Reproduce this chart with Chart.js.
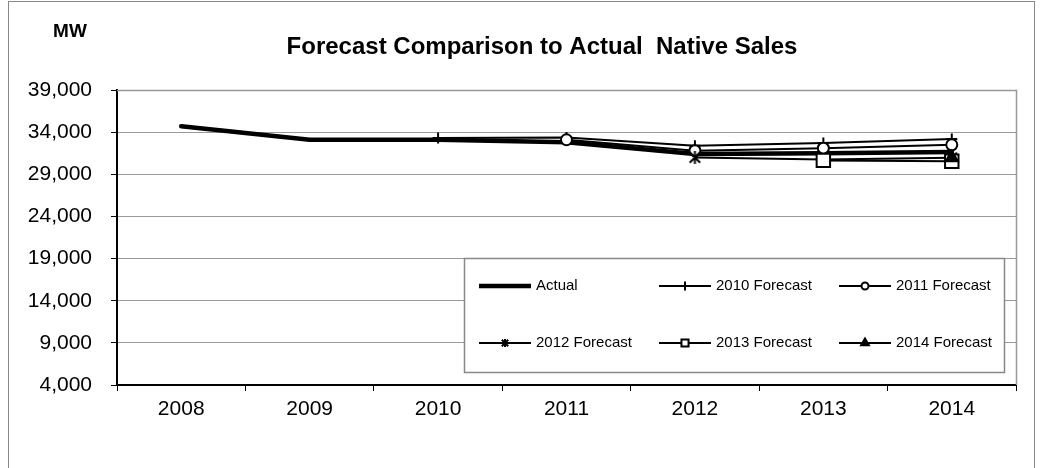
<!DOCTYPE html>
<html>
<head>
<meta charset="utf-8">
<script src="https://cdn.jsdelivr.net/npm/chart.js@4.4.1/dist/chart.umd.min.js"></script>
<style>
  html, body { margin: 0; padding: 0; background: #fff; overflow: hidden; }
  #wrap { position: relative; width: 1041px; height: 468px; }
</style>
</head>
<body>
<div id="wrap"><canvas id="c" width="1041" height="468"></canvas></div>
<script>
// ---- Data ----
const years = ['2008', '2009', '2010', '2011', '2012', '2013', '2014'];
const actual     = [34700, 33100, 33100, 32800, 31400, 31500, 31650];
const fc2010     = [null, null, 33300, 33350, 32400, 32700, 33200];
const fc2011     = [null, null, null, 33100, 31800, 32100, 32500];
const fc2012     = [null, null, null, null, 31000, 30750, 30950];
const fc2013     = [null, null, null, null, null, 30650, 30550];
const fc2014     = [null, null, null, null, null, null, 30950];
const yTicks     = [4000, 9000, 14000, 19000, 24000, 29000, 34000, 39000];
const titleText  = 'Forecast Comparison to Actual  Native Sales';
const unitText   = 'MW';

const FONT = "'Liberation Sans', Arial, sans-serif";

function makeAsterisk(size, lw) {
  const c = document.createElement('canvas');
  c.width = size; c.height = size;
  const g = c.getContext('2d');
  const m = size / 2, r = size / 2 - 1;
  g.strokeStyle = '#000'; g.lineWidth = lw; g.lineCap = 'butt';
  g.beginPath();
  g.moveTo(m, m - r); g.lineTo(m, m + r);
  const d = r * 0.8;
  g.moveTo(m - d, m - d); g.lineTo(m + d, m + d);
  g.moveTo(m + d, m - d); g.lineTo(m - d, m + d);
  g.stroke();
  return c;
}
const asteriskBig = makeAsterisk(15, 2);
const asteriskSmall = makeAsterisk(10, 2);

function fcSet(label, data, style, r, fill, order, legendR, legendStyle) {
  return {
    label, data,
    borderColor: '#000', borderWidth: 2, tension: 0,
    pointStyle: style, pointRadius: r, pointHoverRadius: r,
    pointBorderColor: '#000', pointBorderWidth: 2,
    pointBackgroundColor: fill, order,
    legendRadius: legendR, legendStyle: legendStyle || style
  };
}

const datasets = [
  { label: 'Actual', data: actual, borderColor: '#000', borderWidth: 4.5, tension: 0,
    pointRadius: 0, pointHoverRadius: 0, order: 10, borderCapStyle: 'round', borderJoinStyle: 'round', legendRadius: 0 },
  fcSet('2010 Forecast', fc2010, 'cross', 5.5, '#fff', 5, 4.5),
  fcSet('2011 Forecast', fc2011, 'circle', 5.5, '#fff', 4, 3.5),
  fcSet('2012 Forecast', fc2012, asteriskBig, 7, '#fff', 3, 5, asteriskSmall),
  fcSet('2013 Forecast', fc2013, 'rect', 9.5, '#fff', 2, 5),
  fcSet('2014 Forecast', fc2014, 'triangle', 7, '#000', 1, 4.5)
];

const decor = {
  id: 'decor',
  beforeDraw(chart) {
    const ctx = chart.ctx;
    ctx.save();
    ctx.fillStyle = '#fff';
    ctx.fillRect(0, 0, chart.width, chart.height);
    ctx.strokeStyle = '#888';
    ctx.lineWidth = 1;
    ctx.strokeRect(8.5, 1.5, 1026, 490);
    ctx.restore();
  },
  beforeDatasetsDraw(chart) {
    const { ctx, chartArea: a } = chart;
    ctx.save();
    ctx.strokeStyle = '#999';
    ctx.lineWidth = 1.5;
    ctx.beginPath();
    ctx.moveTo(a.left, a.top + 0.5);
    ctx.lineTo(a.right + 0.5, a.top + 0.5);
    ctx.lineTo(a.right + 0.5, a.bottom);
    ctx.stroke();
    ctx.restore();
  },
  afterDraw(chart) {
    const ctx = chart.ctx;
    ctx.save();
    ctx.fillStyle = '#000';
    ctx.textBaseline = 'middle';
    ctx.textAlign = 'center';
    ctx.font = 'bold 24px ' + FONT;
    ctx.fillText(titleText, 542, 47);
    ctx.font = 'bold 19px ' + FONT;
    ctx.fillText(unitText, 70, 32);

    // legend box
    const bx = 464, by = 258, bw = 540, bh = 114;
    ctx.fillStyle = '#fff';
    ctx.fillRect(bx, by, bw, bh);
    ctx.strokeStyle = '#888';
    ctx.lineWidth = 1.5;
    ctx.strokeRect(bx + 0.5, by + 0.5, bw, bh);

    const cols = [479, 659, 839];
    const rows = [286, 343];
    const lineLen = 52;
    ctx.font = '15px ' + FONT;
    ctx.textAlign = 'left';
    chart.data.datasets.forEach((ds, i) => {
      const x = cols[i % 3], y = rows[Math.floor(i / 3)];
      ctx.strokeStyle = '#000';
      ctx.lineWidth = ds.borderWidth;
      ctx.lineCap = 'butt';
      ctx.beginPath();
      ctx.moveTo(x, y);
      ctx.lineTo(x + lineLen, y);
      ctx.stroke();
      if (ds.legendRadius > 0) {
        ctx.fillStyle = ds.pointBackgroundColor;
        ctx.strokeStyle = '#000';
        ctx.lineWidth = 2;
        Chart.helpers.drawPoint(ctx, {
          pointStyle: ds.legendStyle, radius: ds.legendRadius, borderWidth: 2, rotation: 0
        }, x + lineLen / 2, y);
      }
      ctx.fillStyle = '#000';
      ctx.fillText(ds.label, x + lineLen + 5, y);
    });
    ctx.restore();
  }
};

new Chart(document.getElementById('c'), {
  type: 'line',
  data: { labels: years, datasets },
  plugins: [decor],
  options: {
    responsive: false,
    animation: false,
    devicePixelRatio: 1,
    layout: { padding: { top: 90, right: 1041 - 1016, left: 0, bottom: 0 } },
    plugins: { legend: { display: false }, title: { display: false }, tooltip: { enabled: false } },
    scales: {
      x: {
        type: 'category',
        offset: true,
        grid: { offset: true, drawOnChartArea: false, tickLength: 6, tickColor: '#000', tickWidth: 1 },
        border: { color: '#000', width: 2 },
        ticks: { color: '#000', font: { family: FONT, size: 21 }, padding: 6, maxRotation: 0 },
        afterFit(s) { s.height = 468 - 385; }
      },
      y: {
        min: 4000, max: 39000,
        afterBuildTicks(s) { s.ticks = yTicks.map(v => ({ value: v })); },
        grid: { color: '#999', lineWidth: 1, tickLength: 6, tickColor: '#000' },
        border: { color: '#000', width: 2 },
        ticks: {
          color: '#000', font: { family: FONT, size: 21 }, padding: 19,
          callback: v => Number(v).toLocaleString('en-US')
        },
        afterFit(s) { s.width = 117; }
      }
    }
  }
});
</script>
</body>
</html>
